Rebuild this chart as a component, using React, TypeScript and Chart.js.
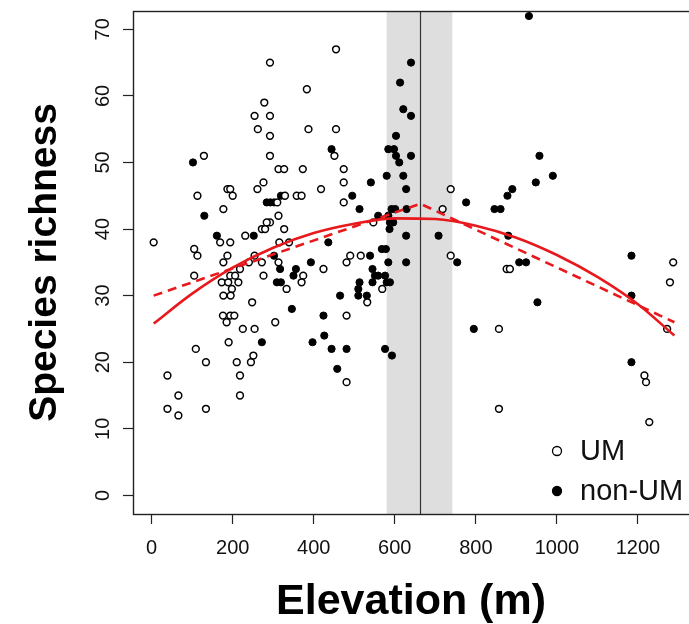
import React, { useEffect, useRef } from "react";
import { Chart, registerables } from "chart.js";

Chart.register(...registerables);

// ---- data ----
const umElevation = [
  292, 383, 278, 254, 292, 262, 387, 292, 129, 292, 313, 327, 373, 455, 455, 451, 474,
  276, 261, 187, 194, 200, 113, 329, 358, 370, 418, 177, 310, 313, 292, 284, 272, 280,
  327, 231, 169, 194, 315, 339, 105, 113, 177, 187, 254, 240, 272, 313, 424, 105, 218,
  276, 374, 370, 198, 333, 177, 195, 248, 176, 185, 194, 204, 305, 173, 189, 214, 194,
  206, 5, 225, 254, 190, 109, 134, 210, 245, 251, 39, 218, 66, 218, 39, 134, 66, 474,
  738, 474, 718, 547, 490, 516, 481, 738, 569, 532, 481, 481, 1287, 876, 884, 1279, 857,
  1272, 1216, 1220, 857, 1228,
];
const umRichness = [
  65, 61, 59, 57, 57, 55, 55, 54, 51, 51, 49, 49, 49, 67, 55, 51, 49,
  47, 46, 46, 46, 45, 45, 45, 45, 45, 46, 43, 44, 42, 41, 41, 40, 40,
  40, 39, 38, 38, 38, 38, 37, 36, 35, 36, 36, 35, 35, 35, 34, 33, 34,
  33, 33, 32, 31, 31, 30, 30, 29, 27, 26, 27, 27, 26, 32, 32, 32, 33,
  33, 38, 25, 25, 23, 22, 20, 20, 20, 21, 18, 18, 15, 15, 13, 13, 12, 47,
  46, 44, 43, 41, 36, 36, 35, 36, 31, 29, 27, 17, 35, 34, 34, 32, 25,
  25, 18, 17, 13, 11,
];
const nonUmElevation = [
  102, 130, 161, 284, 293, 302, 319, 252, 436, 302, 393, 317, 356, 309, 319, 350, 346,
  424, 272, 397, 640, 613, 621, 640, 603, 444, 584, 598, 603, 611, 640, 580, 621, 541,
  628, 495, 513, 559, 584, 592, 601, 629, 588, 596, 776, 587, 628, 708, 568, 578, 539,
  754, 584, 628, 545, 551, 559, 576, 580, 588, 545, 513, 510, 510, 465, 531, 426, 444,
  481, 576, 593, 458, 795, 931, 957, 990, 948, 890, 878, 846, 861, 880, 1184, 907, 924,
  952, 1184, 1184,
];
const nonUmRichness = [
  50, 42, 39, 44, 44, 44, 45, 39, 38, 36, 35, 34, 34, 32, 32, 33, 28,
  27, 23, 23, 65, 62, 58, 57, 54, 52, 52, 52, 51, 50, 51, 48, 48, 47,
  46, 45, 43, 42, 42, 43, 43, 43, 41, 41, 44, 40, 39, 39, 37, 37, 36,
  35, 35, 35, 34, 33, 33, 33, 32, 32, 32, 32, 31, 30, 30, 30, 24, 22,
  22, 22, 21, 19, 25, 72, 51, 48, 47, 46, 45, 43, 43, 39, 36, 35, 35,
  29, 30, 20,
];
// quadratic fit (solid red)
const quadFitElevation = [5, 100, 200, 300, 400, 500, 600, 700, 800, 900, 1000, 1100, 1200, 1290];
const quadFitRichness = [25.8, 30.3, 34.2, 37.2, 39.4, 40.8, 41.6, 41.5, 40.5, 38.7, 36.1, 32.8, 28.7, 24.0];
// segmented fit (dashed red)
const segFitElevation = [5, 663, 1290];
const segFitRichness = [30.0, 43.8, 26.0];
// breakpoint and its interval
const breakpoint = 663;
const breakpointLow = 580;
const breakpointHigh = 742;
// axes
const xTickValues = [0, 200, 400, 600, 800, 1000, 1200];
const yTickValues = [0, 10, 20, 30, 40, 50, 60, 70];
const xMin = -46;
const xMax = 1326;
const yMin = -2.8;
const yMax = 72.75;

const FONT = "'Liberation Sans', Arial, Helvetica, sans-serif";

const toPoints = (xs: number[], ys: number[]) => xs.map((x, i) => ({ x, y: ys[i] }));

const decorPlugin = {
  id: "decor",
  beforeDatasetsDraw(chart: any) {
    const { ctx, chartArea, scales } = chart;
    const { top, bottom } = chartArea;
    const x = scales.x;
    const x1 = x.getPixelForValue(breakpointLow);
    const x2 = x.getPixelForValue(breakpointHigh);
    ctx.save();
    ctx.fillStyle = "#dedede";
    ctx.fillRect(x1, top, x2 - x1, bottom - top);
    const xb = Math.round(x.getPixelForValue(breakpoint)) + 0.5;
    ctx.strokeStyle = "#333";
    ctx.lineWidth = 1.2;
    ctx.beginPath();
    ctx.moveTo(xb, top);
    ctx.lineTo(xb, bottom);
    ctx.stroke();
    ctx.restore();
  },
  afterDraw(chart: any) {
    const { ctx, chartArea } = chart;
    const { left, top, right, bottom } = chartArea;
    ctx.save();
    ctx.strokeStyle = "#222";
    ctx.lineWidth = 1.4;
    ctx.strokeRect(left + 0.5, top + 0.5, right - left + 3, bottom - top);
    // legend (bottom right, no box)
    const ds = chart.data.datasets;
    const rows = [ds[0], ds[1]];
    const mx = right - 132;
    const tx = right - 109;
    const ys = [bottom - 63, bottom - 23];
    ctx.font = `29px ${FONT}`;
    ctx.textBaseline = "middle";
    ctx.textAlign = "left";
    rows.forEach((d: any, i: number) => {
      ctx.beginPath();
      ctx.arc(mx, ys[i], 4.5, 0, Math.PI * 2);
      ctx.fillStyle = d.backgroundColor;
      ctx.fill();
      ctx.lineWidth = 1.3;
      ctx.strokeStyle = "#000";
      ctx.stroke();
      ctx.fillStyle = "#111";
      ctx.fillText(d.label, tx, ys[i] + 1);
    });
    ctx.restore();
  },
};

export default function App() {
  const ref = useRef<HTMLCanvasElement | null>(null);

  useEffect(() => {
    document.body.style.margin = "0";
    const canvas = ref.current;
    if (!canvas) return;
    const chart = new Chart(canvas, {
      type: "scatter",
      data: {
        datasets: [
          {
            label: "UM",
            data: toPoints(umElevation, umRichness),
            backgroundColor: "#ffffff",
            borderColor: "#000000",
            borderWidth: 1.5,
            pointRadius: 3.4,
            order: 2,
          },
          {
            label: "non-UM",
            data: toPoints(nonUmElevation, nonUmRichness),
            backgroundColor: "#000000",
            borderColor: "#000000",
            borderWidth: 1,
            pointRadius: 3.6,
            order: 3,
          },
          {
            label: "quadratic",
            data: toPoints(quadFitElevation, quadFitRichness),
            showLine: true,
            cubicInterpolationMode: "monotone",
            borderColor: "#e8191c",
            backgroundColor: "#e8191c",
            borderWidth: 2.6,
            pointRadius: 0,
            order: 0,
          },
          {
            label: "segmented",
            data: toPoints(segFitElevation, segFitRichness),
            showLine: true,
            borderColor: "#e8191c",
            backgroundColor: "#e8191c",
            borderWidth: 2.6,
            borderDash: [9, 6],
            pointRadius: 0,
            order: 1,
          },
        ],
      } as any,
      options: {
        animation: false,
        responsive: false,
        devicePixelRatio: 1,
        events: [],
        layout: { autoPadding: false, padding: { top: 11, left: 0, right: 0, bottom: 0 } },
        plugins: { legend: { display: false }, tooltip: { enabled: false } },
        scales: {
          x: {
            type: "linear",
            min: xMin,
            max: xMax,
            afterBuildTicks: (s: any) => {
              s.ticks = xTickValues.map((v) => ({ value: v }));
            },
            afterFit: (s: any) => {
              s.height = 110;
              s.paddingLeft = 0;
              s.paddingRight = 0;
              s.paddingTop = 0;
              s.paddingBottom = 0;
            },
            grid: { drawOnChartArea: false, drawTicks: true, tickLength: 10, tickColor: "#222", tickWidth: 1.2 },
            border: { display: false },
            ticks: {
              autoSkip: false,
              maxRotation: 0,
              padding: 12,
              color: "#111",
              font: { family: FONT, size: 20 },
              callback: (v: any) => String(v),
            },
            title: {
              display: true,
              text: "Elevation (m)",
              color: "#000",
              font: { family: FONT, size: 43, weight: "bold", lineHeight: 1.0 },
              padding: { top: 0, bottom: 0 },
            },
          },
          y: {
            type: "linear",
            min: yMin,
            max: yMax,
            afterBuildTicks: (s: any) => {
              s.ticks = yTickValues.map((v) => ({ value: v }));
            },
            afterFit: (s: any) => {
              s.width = 133;
              s.paddingLeft = 0;
              s.paddingRight = 0;
              s.paddingTop = 0;
              s.paddingBottom = 0;
            },
            grid: { drawOnChartArea: false, drawTicks: true, tickLength: 10, tickColor: "#222", tickWidth: 1.2 },
            border: { display: false },
            ticks: {
              autoSkip: false,
              minRotation: 90,
              maxRotation: 90,
              crossAlign: "center",
              padding: 8,
              color: "#111",
              font: { family: FONT, size: 20 },
              callback: (v: any) => String(v),
            },
            title: {
              display: true,
              text: "Species richness",
              color: "#000",
              font: { family: FONT, size: 39, weight: "bold", lineHeight: 1.2 },
              padding: { top: 22, bottom: 0 },
            },
          },
        },
      } as any,
      plugins: [decorPlugin],
    });
    return () => chart.destroy();
  }, []);

  return (
    <div style={{ position: "absolute", left: 0, top: 0, width: 689, height: 624, background: "#fff" }}>
      <canvas ref={ref} width={689} height={624} style={{ display: "block", width: 689, height: 624 }} />
    </div>
  );
}
